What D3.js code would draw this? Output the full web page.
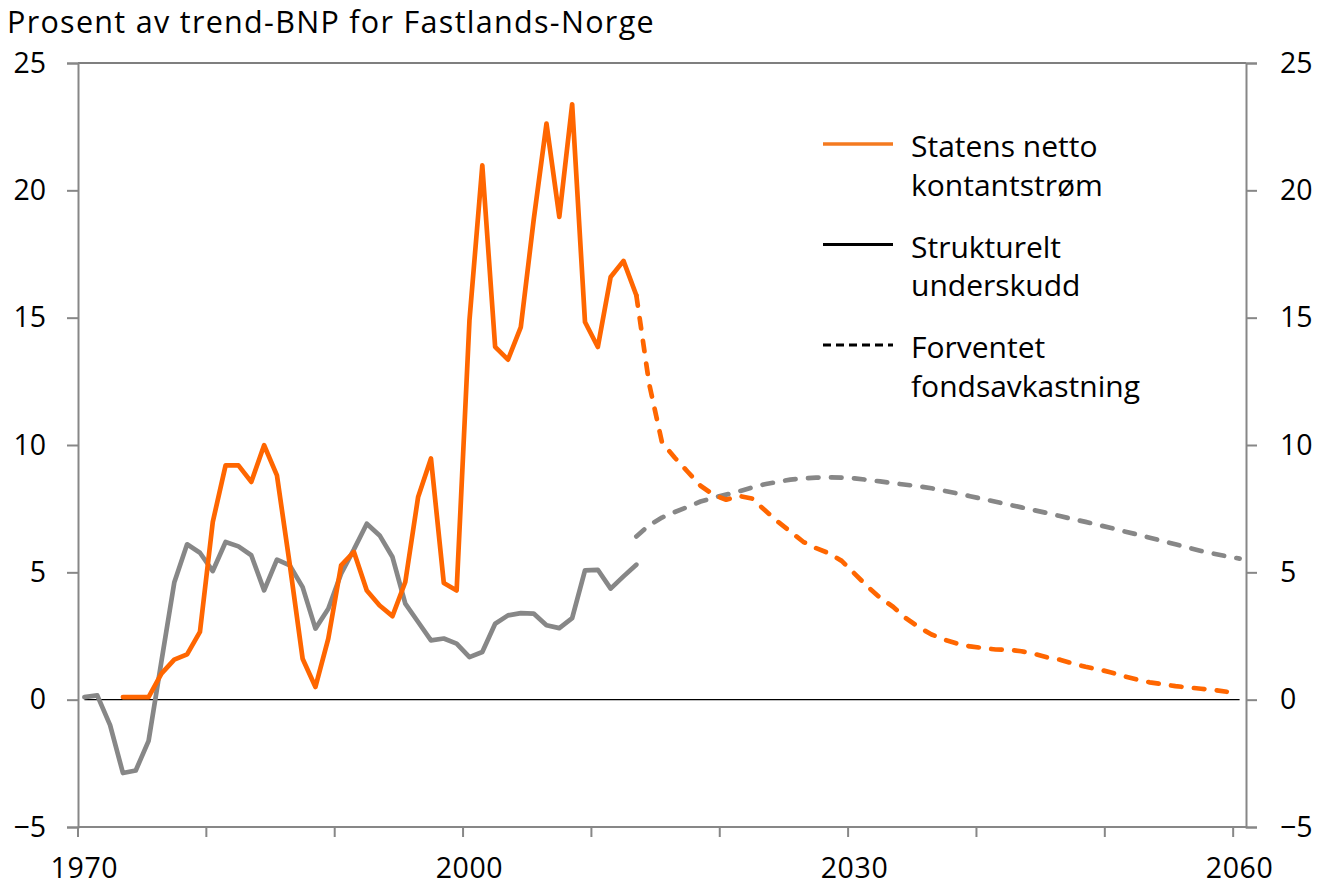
<!DOCTYPE html>
<html>
<head>
<meta charset="utf-8">
<script src="https://cdn.jsdelivr.net/npm/d3@7"></script>
<style>
  body { margin: 0; background: #fff; }
  svg text { font-family: "Open Sans", sans-serif; fill: #000; }
</style>
</head>
<body>
<div id="chart"></div>
<script>
// category years on the x axis
const years = d3.range(1970, 2061);
const labelYears = [1970, 2000, 2030, 2060];
const yTicks = [-5, 0, 5, 10, 15, 20, 25];

// Statens netto kontantstrøm, 1973-2013 (historical)
const cashStart = 1973;
const cashFlow = [0.1, 0.1, 0.1, 1.02, 1.57, 1.78, 2.66, 6.98, 9.2, 9.2,
  8.55, 9.99, 8.81, 5.3, 1.61, 0.5, 2.4, 5.27, 5.8, 4.29,
  3.7, 3.28, 4.62, 7.96, 9.47, 4.58, 4.29, 14.9, 20.98, 13.85,
  13.35, 14.63, 18.83, 22.62, 18.96, 23.38, 14.83, 13.85, 16.6, 17.23,
  15.88];

// Statens netto kontantstrøm, 2013-2059 (projection)
const cashProjStart = 2013;
const cashFlowProj = [15.88, 12.4, 10.1, 9.5, 8.95, 8.4, 8.05, 7.85, 8.0, 7.9,
  7.45, 7.0, 6.6, 6.2, 5.95, 5.75, 5.45, 4.95, 4.45, 4.0,
  3.65, 3.2, 2.85, 2.56, 2.36, 2.2, 2.09, 2.03, 1.97, 1.96,
  1.9, 1.8, 1.66, 1.57, 1.42, 1.29, 1.19, 1.07, 0.92, 0.79,
  0.68, 0.61, 0.53, 0.48, 0.43, 0.38, 0.31];

// Strukturelt underskudd, 1970-2013
const deficitStart = 1970;
const structDeficit = [0.1, 0.17, -1.0, -2.88, -2.78, -1.62, 1.5, 4.6, 6.1, 5.77,
  5.05, 6.19, 6.02, 5.67, 4.29, 5.5, 5.27, 4.42, 2.79, 3.57,
  4.95, 5.9, 6.91, 6.45, 5.6, 3.77, 3.05, 2.33, 2.4, 2.2,
  1.67, 1.87, 2.98, 3.31, 3.4, 3.38, 2.92, 2.81, 3.2, 5.08,
  5.1, 4.36, 4.84, 5.3];

// Forventet fondsavkastning, 2013-2060
const fundStart = 2013;
const fundReturn = [6.41, 6.85, 7.15, 7.37, 7.57, 7.78, 7.93, 8.05, 8.18, 8.33,
  8.46, 8.55, 8.64, 8.69, 8.72, 8.73, 8.72, 8.69, 8.63, 8.57,
  8.5, 8.44, 8.38, 8.3, 8.2, 8.1, 7.99, 7.88, 7.77, 7.66,
  7.55, 7.44, 7.33, 7.21, 7.09, 6.98, 6.86, 6.74, 6.61, 6.49,
  6.36, 6.23, 6.1, 5.97, 5.84, 5.73, 5.63, 5.54];

const legendItems = [
  {lines: ["Statens netto", "kontantstrøm"], color: "#f47a20", dash: null, width: 3.5},
  {lines: ["Strukturelt", "underskudd"], color: "#000", dash: null, width: 3},
  {lines: ["Forventet", "fondsavkastning"], color: "#000", dash: "8,5", width: 3}
];

const width = 1318, height = 885;
const margin = {top: 63, right: 72, bottom: 58, left: 78};

const svg = d3.select("#chart").append("svg")
  .attr("width", width)
  .attr("height", height);

const x = d3.scaleBand()
  .domain(years)
  .range([margin.left, width - margin.right])
  .padding(0);

const y = d3.scaleLinear()
  .domain([-5, 25])
  .range([height - margin.bottom, margin.top]);

const cx = yr => x(yr) + x.bandwidth() / 2;
const toPoints = (start, vals) => vals.map((v, i) => [start + i, v]);

const axisColor = "#878787";
const orange = "#ff6600";
const grey = "#878787";
const tickFont = 28.5;

// top border of plot area
svg.append("line")
  .attr("x1", margin.left).attr("x2", width - margin.right)
  .attr("y1", y(25)).attr("y2", y(25))
  .attr("stroke", "#000").attr("stroke-width", 1.2);

// left axis
svg.append("g")
  .attr("transform", `translate(${margin.left},0)`)
  .call(d3.axisLeft(y).tickValues(yTicks).tickSize(11).tickPadding(21).tickFormat(d3.format("d")))
  .call(g => g.select(".domain").attr("stroke", axisColor).attr("stroke-width", 2))
  .call(g => g.selectAll(".tick line").attr("stroke", axisColor).attr("stroke-width", 2))
  .call(g => g.selectAll(".tick text").attr("font-size", tickFont).attr("font-family", "Open Sans").attr("fill", "#000"));

// right axis
svg.append("g")
  .attr("transform", `translate(${width - margin.right},0)`)
  .call(d3.axisRight(y).tickValues(yTicks).tickSize(11).tickPadding(23).tickFormat(d3.format("d")))
  .call(g => g.select(".domain").attr("stroke", axisColor).attr("stroke-width", 2))
  .call(g => g.selectAll(".tick line").attr("stroke", axisColor).attr("stroke-width", 2))
  .call(g => g.selectAll(".tick text").attr("font-size", tickFont).attr("font-family", "Open Sans").attr("fill", "#000"));

// bottom axis: ticks on category boundaries every 10 years, labels at category centres
const xAxis = svg.append("g")
  .attr("transform", `translate(0,${y(-5)})`);
xAxis.append("line")
  .attr("x1", margin.left).attr("x2", width - margin.right)
  .attr("stroke", axisColor).attr("stroke-width", 2);
xAxis.selectAll("line.tick")
  .data(years.filter(d => d % 10 === 0))
  .join("line")
  .attr("class", "tick")
  .attr("x1", d => x(d)).attr("x2", d => x(d))
  .attr("y1", 0).attr("y2", 10)
  .attr("stroke", axisColor).attr("stroke-width", 2);
xAxis.selectAll("text")
  .data(labelYears)
  .join("text")
  .attr("x", d => cx(d))
  .attr("y", 51)
  .attr("text-anchor", "middle")
  .attr("font-size", tickFont)
  .attr("letter-spacing", 0.6)
  .text(d => d);

// zero line
svg.append("line")
  .attr("x1", cx(1970)).attr("x2", cx(2060))
  .attr("y1", y(0)).attr("y2", y(0))
  .attr("stroke", "#000").attr("stroke-width", 1.3);

const line = d3.line().x(d => cx(d[0])).y(d => y(d[1]));

const series = [
  {pts: toPoints(deficitStart, structDeficit), color: grey, dash: null},
  {pts: toPoints(fundStart, fundReturn), color: grey, dash: "10.5,12.5"},
  {pts: toPoints(cashStart, cashFlow), color: orange, dash: null},
  {pts: toPoints(cashProjStart, cashFlowProj), color: orange, dash: "10.5,12.5"}
];

svg.selectAll("path.series")
  .data(series)
  .join("path")
  .attr("class", "series")
  .attr("d", d => line(d.pts))
  .attr("fill", "none")
  .attr("stroke", d => d.color)
  .attr("stroke-width", 4.7)
  .attr("stroke-linejoin", "round")
  .attr("stroke-linecap", "round")
  .attr("stroke-dasharray", d => d.dash);

// title
svg.append("text")
  .attr("x", 7)
  .attr("y", 32.5)
  .attr("font-size", 30.5)
  .attr("letter-spacing", 1.3)
  .text("Prosent av trend-BNP for Fastlands-Norge");

// legend
const legend = svg.append("g");
const lg = legend.selectAll("g")
  .data(legendItems)
  .join("g")
  .attr("transform", (d, i) => `translate(823,${144 + i * 100.5})`);
lg.append("line")
  .attr("x1", 0).attr("x2", 70)
  .attr("stroke", d => d.color)
  .attr("stroke-width", d => d.width)
  .attr("stroke-dasharray", d => d.dash);
lg.append("text")
  .attr("x", 88)
  .attr("y", 13)
  .attr("font-size", 30)
  .selectAll("tspan")
  .data(d => d.lines)
  .join("tspan")
  .attr("x", 88)
  .attr("dy", (d, i) => i === 0 ? 0 : 38.5)
  .text(d => d);
</script>
</body>
</html>
